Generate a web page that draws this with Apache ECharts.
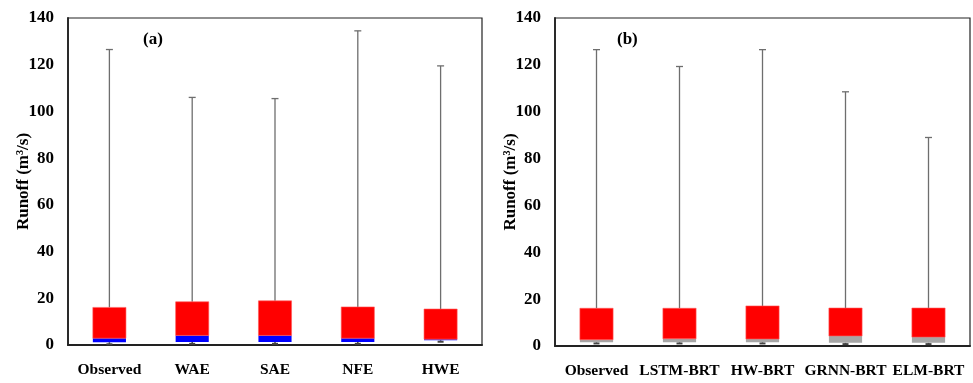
<!DOCTYPE html>
<html><head><meta charset="utf-8">
<script src="https://cdn.jsdelivr.net/npm/echarts@6/dist/echarts.min.js"></script>
<style>html,body{margin:0;padding:0;background:#fff}#c{width:973px;height:383px}</style>
</head><body><div id="c"></div>
<script>
// Panel (a)
const catsA = ['Observed','WAE','SAE','NFE','HWE'];
const minA = [0.3, 0.5, 0.5, 0.5, 1.4];
const q1A  = [1.2, 1.3, 1.3, 1.3, 2.0];
const medA = [2.9, 4.1, 4.1, 2.9, 2.5];
const q3A  = [16.1, 18.5, 18.9, 16.3, 15.4];
const maxA = [126.5, 106, 105.5, 134.5, 119.5];
// Panel (b)
const catsB = ['Observed','LSTM-BRT','HW-BRT','GRNN-BRT','ELM-BRT'];
const minB = [1.1, 1.1, 1.1, 0.8, 0.8];
const q1B  = [1.6, 1.6, 1.6, 1.4, 1.4];
const medB = [2.7, 3.1, 3.0, 4.3, 3.8];
const q3B  = [16.1, 16.1, 17.1, 16.2, 16.2];
const maxB = [126.5, 119.3, 126.5, 108.5, 89];
const yTicks = [0, 20, 40, 60, 80, 100, 120, 140];

const FONT = 'Liberation Serif';
function rows(mn, q1, md, q3, mx){ return mn.map((v,i)=>[i, v, q1[i], md[i], q3[i], mx[i]]); }
function makeRender(lowColor){
  return function(params, api){
    const x = api.value(0);
    const pMin = api.coord([x, api.value(1)]);
    const pQ1 = api.coord([x, api.value(2)]);
    const pMed = api.coord([x, api.value(3)]);
    const pQ3 = api.coord([x, api.value(4)]);
    const pMax = api.coord([x, api.value(5)]);
    const w = api.size([1, 0])[0] * 0.4;
    const cx = pMin[0];
    return {type:'group', children:[
      {type:'line', shape:{x1:cx, y1:pMax[1], x2:cx, y2:pQ3[1]}, style:{stroke:'#6e6e6e', lineWidth:1.3}},
      {type:'line', shape:{x1:cx-3.5, y1:pMax[1], x2:cx+3.5, y2:pMax[1]}, style:{stroke:'#6e6e6e', lineWidth:1.3}},
      {type:'line', shape:{x1:cx, y1:pQ1[1], x2:cx, y2:pMin[1]}, style:{stroke:'#444', lineWidth:1.5}},
      {type:'line', shape:{x1:cx-3, y1:pMin[1], x2:cx+3, y2:pMin[1]}, style:{stroke:'#444', lineWidth:2}},
      {type:'rect', shape:{x:cx-w/2, y:pMed[1], width:w, height:pQ1[1]-pMed[1]}, style:{fill:lowColor}},
      {type:'rect', shape:{x:cx-w/2, y:pQ3[1], width:w, height:pMed[1]-pQ3[1]}, style:{fill:'#ff0000', stroke:'#ff5a5a', lineWidth:0.6}}
    ]};
  };
}
function yAxis(idx){
  return {type:'value', gridIndex:idx, min:0, max:140, interval:20,
    name:'Runoff (m³/s)', nameLocation:'middle', nameGap:36, nameMoveOverlap:false,
    nameTextStyle:{fontFamily:FONT, fontWeight:'bold', fontSize:17, color:'#000'},
    axisLine:{show:true, lineStyle:{color:'#222', width:1.8}}, axisTick:{show:false},
    splitLine:{show:false},
    axisLabel:{fontFamily:FONT, fontWeight:'bold', fontSize:17, color:'#000', margin:14,
      formatter:v=> yTicks.includes(v) ? String(v) : ''}};
}
function xAxis(idx, cats){
  return {type:'category', gridIndex:idx, data:cats, boundaryGap:true,
    axisLine:{show:true, lineStyle:{color:'#222', width:2}}, axisTick:{show:false},
    axisLabel:{fontFamily:FONT, fontWeight:'bold', fontSize:15.5, color:'#000', margin:17, interval:0}};
}
const chart = echarts.init(document.getElementById('c'), null, {renderer:'canvas'});
chart.setOption({
  animation:false,
  backgroundColor:'#fff',
  grid:[
    {left:68, top:18, width:414, height:327, show:true, borderColor:'#222', borderWidth:1.2, backgroundColor:'transparent'},
    {left:555, top:18, width:415, height:328, show:true, borderColor:'#222', borderWidth:1.2, backgroundColor:'transparent'}
  ],
  xAxis:[xAxis(0, catsA), xAxis(1, catsB)],
  yAxis:[yAxis(0), yAxis(1)],
  graphic:[
    {type:'text', left:143, top:31, style:{text:'(a)', font:'bold 17px "Liberation Serif"', fill:'#000'}},
    {type:'text', left:617, top:31, style:{text:'(b)', font:'bold 17px "Liberation Serif"', fill:'#000'}}
  ],
  series:[
    {type:'custom', xAxisIndex:0, yAxisIndex:0, renderItem:makeRender('#0000ff'),
      encode:{x:0, y:[1,2,3,4,5]}, data:rows(minA,q1A,medA,q3A,maxA)},
    {type:'custom', xAxisIndex:1, yAxisIndex:1, renderItem:makeRender('#a6a6a6'),
      encode:{x:0, y:[1,2,3,4,5]}, data:rows(minB,q1B,medB,q3B,maxB)}
  ]
});
</script></body></html>
